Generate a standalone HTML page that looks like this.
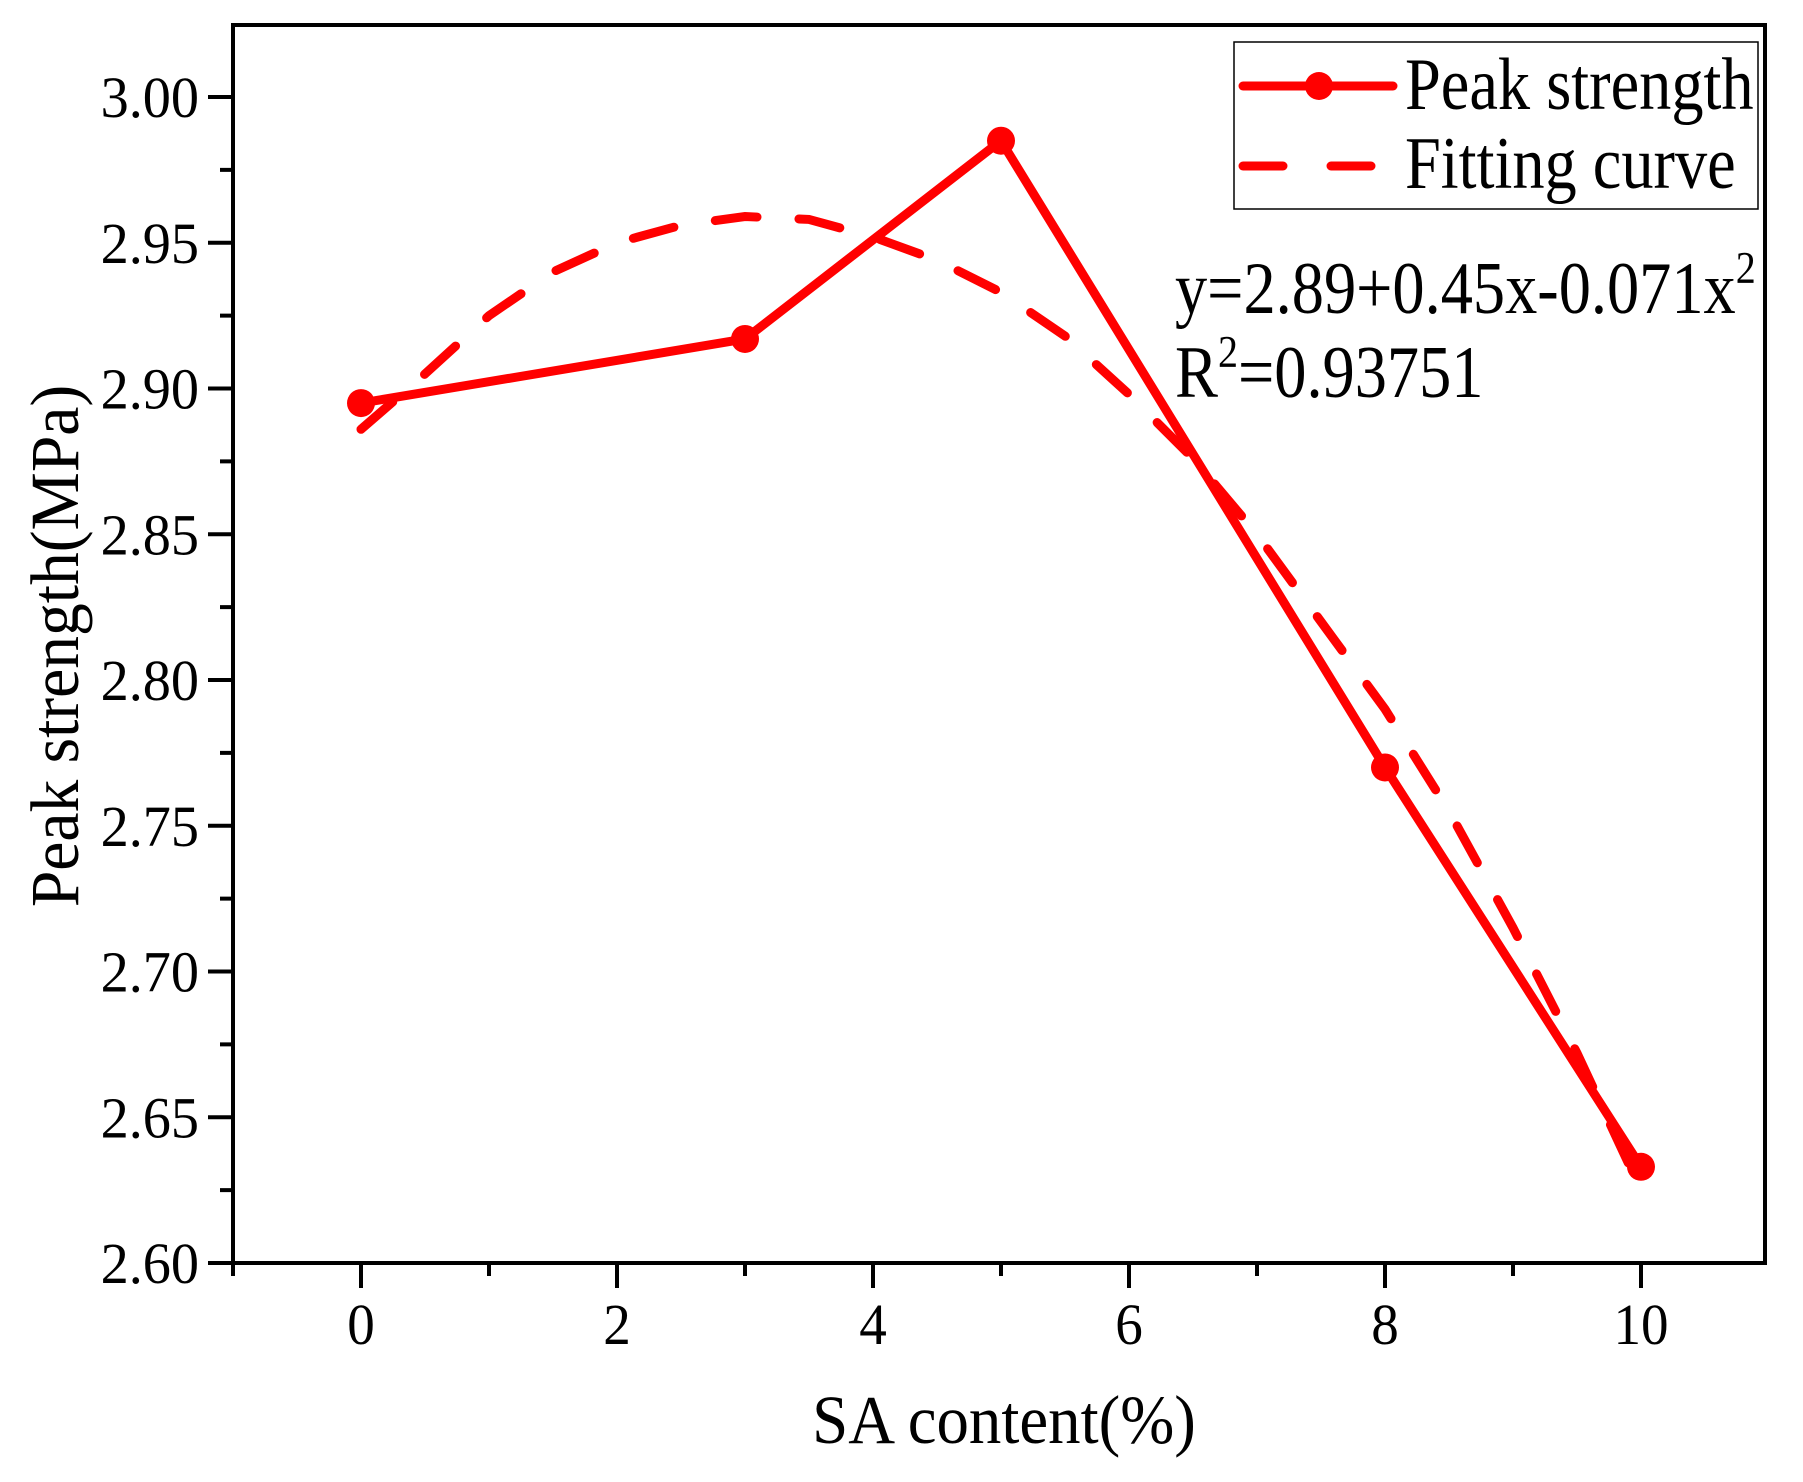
<!DOCTYPE html>
<html><head><meta charset="utf-8"><style>
html,body{margin:0;padding:0;background:#fff;}
svg{display:block;font-family:"Liberation Serif",serif;}
</style></head><body>
<svg id="chart" width="1803" height="1482" viewBox="0 0 1803 1482">
<g id="series"></g>
<rect x="233" y="25" width="1532" height="1238" fill="none" stroke="#000" stroke-width="4"/>
<g id="axes"></g>
<g>
<rect x="1234" y="42" width="524" height="167" fill="#fff" stroke="#000" stroke-width="1.5"/>
<g>
<line x1="1243" y1="86" x2="1393" y2="86" stroke="#ff0000" stroke-width="9" stroke-linecap="round"/>
<circle cx="1319" cy="86" r="14" fill="#ff0000"/>
<text transform="translate(1405,109) scale(0.87,1)" font-size="74">Peak strength</text></g>
<g>
<line x1="1243" y1="166" x2="1393" y2="166" stroke="#ff0000" stroke-width="9" stroke-linecap="round" stroke-dasharray="40,48"/>
<text transform="translate(1405,188) scale(0.87,1)" font-size="74">Fitting curve</text></g>
</g>
<text transform="translate(1175,313) scale(0.87,1)" font-size="74">y=2.89+0.45x-0.071x<tspan dy="-30" font-size="46">2</tspan></text>
<text transform="translate(1175,397) scale(0.87,1)" font-size="74">R<tspan dy="-30" font-size="46">2</tspan><tspan dy="30">=0.93751</tspan></text>
<text transform="translate(1004,1443) scale(0.94,1)" font-size="69" text-anchor="middle">SA content(%)</text>
<text transform="translate(78,646) rotate(-90) scale(0.95,1)" font-size="69" text-anchor="middle">Peak strength(MPa)</text>
</svg>
<script>
const peakX = [0, 3, 5, 8, 10];
const peakY = [2.895, 2.917, 2.985, 2.770, 2.633];
const fitX = [0,0.5,1,1.5,2,2.5,3,3.5,4,4.5,5,5.5,6,6.5,7,7.5,8,8.5,9,9.5,10];
const fitY = [2.886,2.905,2.925,2.94,2.95,2.956,2.959,2.958,2.952,2.944,2.933,2.918,2.898,2.876,2.85,2.82,2.79,2.755,2.715,2.672,2.625];
const xTicks = [0,2,4,6,8,10];
const yTicks = [2.60,2.65,2.70,2.75,2.80,2.85,2.90,2.95,3.00];
const NS="http://www.w3.org/2000/svg";
function sx(v){return 361+v*128;}
function sy(v){return 1263-(v-2.6)/0.05*145.75;}
function mk(tag,attrs,parent){const e=document.createElementNS(NS,tag);for(const k in attrs)e.setAttribute(k,attrs[k]);parent.appendChild(e);return e;}
const axes=document.getElementById('axes'), ser=document.getElementById('series');
for(let v=-1;v<=12;v++){
  const x=sx(v); if(x<233||x>1765) continue;
  const major=(v%2===0)&&v>=0&&v<=10;
  const t=mk('line',{x1:x,y1:1263,x2:x,y2:major?1288:1276,stroke:'#000','stroke-width':4},axes);
  
  
}
xTicks.forEach(v=>{
  const t=mk('text',{transform:'translate('+sx(v)+',1344) scale(0.95,1)','font-size':58,'text-anchor':'middle'},axes);
  t.textContent=String(v);
  
  
});
for(let i=0;i<=17;i++){
  const v=2.6+i*0.025; const y=sy(v); if(y<25) continue;
  const major=i%2===0;
  const t=mk('line',{x1:major?208:220,y1:y,x2:233,y2:y,stroke:'#000','stroke-width':4},axes);
  
  
}
yTicks.forEach(v=>{
  const t=mk('text',{transform:'translate(199,'+(sy(v)+20)+') scale(0.97,1)','font-size':58,'text-anchor':'end'},axes);
  t.textContent=v.toFixed(2);
  
  
});
const fp=mk('polyline',{points:fitX.map((x,i)=>sx(x)+','+sy(fitY[i])).join(' '),fill:'none',stroke:'#ff0000','stroke-width':9,'stroke-dasharray':'42,42','stroke-linecap':'round'},ser);


const pl=mk('polyline',{points:peakX.map((x,i)=>sx(x)+','+sy(peakY[i])).join(' '),fill:'none',stroke:'#ff0000','stroke-width':9,'stroke-linejoin':'round'},ser);


peakX.forEach((x,i)=>{
  const c=mk('circle',{cx:sx(x),cy:sy(peakY[i]),r:14,fill:'#ff0000'},ser);
  
  
});
</script>
</body></html>
